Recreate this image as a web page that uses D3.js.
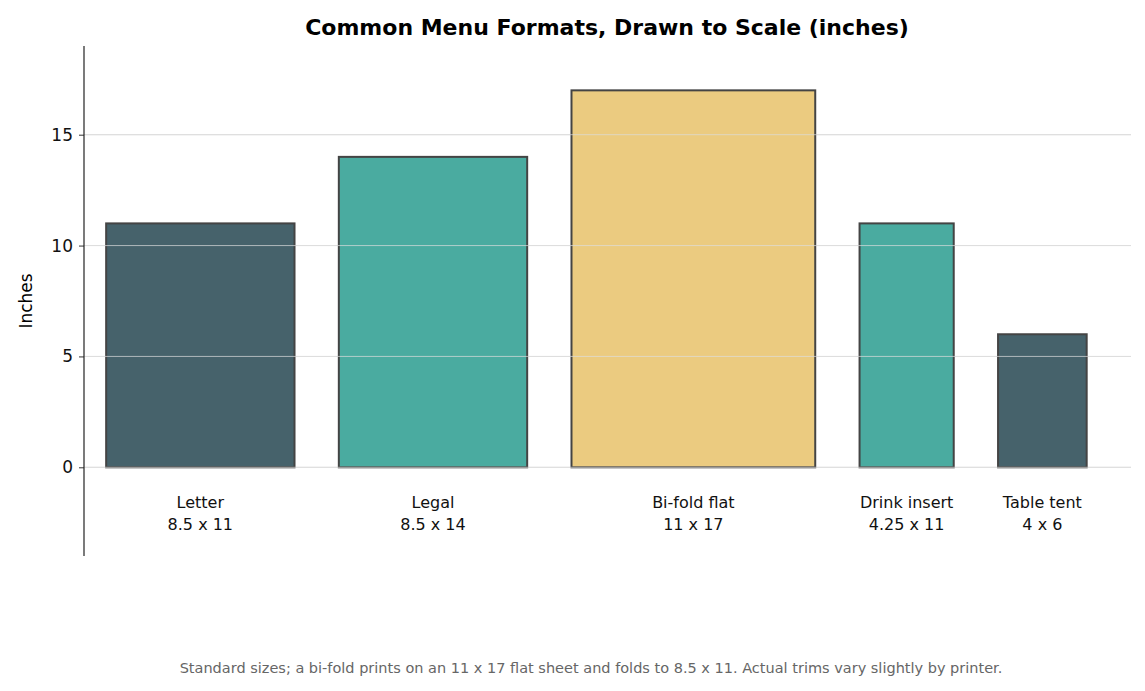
<!DOCTYPE html>
<html>
<head>
<meta charset="utf-8">
<script src="https://cdn.jsdelivr.net/npm/d3@7"></script>
<style>
  body { margin: 0; background: #fff; }
  text { font-family: "DejaVu Sans", sans-serif; }
</style>
</head>
<body>
<div id="chart-area"></div>
<script>
// menu formats: width and height in inches
const names = ["Letter", "Legal", "Bi-fold flat", "Drink insert", "Table tent"];
const sizeLabels = ["8.5 x 11", "8.5 x 14", "11 x 17", "4.25 x 11", "4 x 6"];
const widths = [8.5, 8.5, 11, 4.25, 4];
const heights = [11, 14, 17, 11, 6];
const colors = ["#46626b", "#4aaba0", "#ebcb80", "#4aaba0", "#46626b"];
const yTicks = [0, 5, 10, 15];
const GAP = 2;

const W = 1145, H = 691;
const plotLeft = 84, plotRight = 1131, plotTop = 46, plotBottom = 556;

// bars are laid out end to end with a gap, in inches
let pos = 0;
const bars = names.map((n, i) => {
    const b = {name: n, label: sizeLabels[i], x0: pos, w: widths[i], h: heights[i], color: colors[i]};
    pos += widths[i] + GAP;
    return b;
});

const svg = d3.select("#chart-area").append("svg")
    .attr("width", W)
    .attr("height", H);

const x = d3.scaleLinear().domain([-1, pos]).range([plotLeft, plotRight]);
const y = d3.scaleLinear().domain([-4, 19]).range([plotBottom, plotTop]);

// grid
svg.append("g").selectAll("line").data(yTicks).join("line")
    .attr("x1", plotLeft).attr("x2", plotRight)
    .attr("y1", d => y(d)).attr("y2", d => y(d))
    .attr("stroke", "#dddddd").attr("stroke-width", 1);

// bars
svg.append("g").selectAll("rect").data(bars).join("rect")
    .attr("x", d => x(d.x0))
    .attr("y", d => y(d.h))
    .attr("width", d => x(d.x0 + d.w) - x(d.x0))
    .attr("height", d => y(0) - y(d.h))
    .attr("fill", d => d.color)
    .attr("stroke", "#444")
    .attr("stroke-width", 2);

// light grid lines over bars
svg.append("g").selectAll("line").data(yTicks).join("line")
    .attr("x1", plotLeft).attr("x2", plotRight)
    .attr("y1", d => y(d)).attr("y2", d => y(d))
    .attr("stroke", "#dddddd").attr("stroke-opacity", 0.7).attr("stroke-width", 1);

// y axis
const yAxis = svg.append("g")
    .attr("transform", `translate(${plotLeft},0)`)
    .call(d3.axisLeft(y).tickValues(yTicks).tickSize(5).tickPadding(6));
yAxis.select(".domain").remove();
yAxis.selectAll("text").attr("font-size", "17px").attr("fill", "#111")
    .style("font-family", "DejaVu Sans, sans-serif");
yAxis.selectAll("line").attr("stroke", "#333");
svg.append("line")
    .attr("x1", plotLeft).attr("x2", plotLeft).attr("y1", plotTop).attr("y2", plotBottom)
    .attr("stroke", "#222").attr("stroke-width", 1.2);

svg.append("text")
    .attr("transform", `translate(32,${y(7.5)}) rotate(-90)`)
    .attr("text-anchor", "middle")
    .attr("font-size", "17px")
    .text("Inches");

// category labels
const lab = svg.append("g").selectAll("text").data(bars).join("text")
    .attr("text-anchor", "middle")
    .attr("font-size", "16px")
    .attr("fill", "#111");
lab.append("tspan").attr("x", d => x(d.x0 + d.w / 2)).attr("y", 508).text(d => d.name);
lab.append("tspan").attr("x", d => x(d.x0 + d.w / 2)).attr("y", 530).text(d => d.label);

svg.append("text")
    .attr("x", 607).attr("y", 35)
    .attr("text-anchor", "middle")
    .attr("font-size", "22px").attr("font-weight", "bold")
    .text("Common Menu Formats, Drawn to Scale (inches)");

svg.append("text")
    .attr("x", 591).attr("y", 673)
    .attr("text-anchor", "middle")
    .attr("font-size", "14.5px").attr("fill", "#666")
    .text("Standard sizes; a bi-fold prints on an 11 x 17 flat sheet and folds to 8.5 x 11. Actual trims vary slightly by printer.");
</script>
</body>
</html>
